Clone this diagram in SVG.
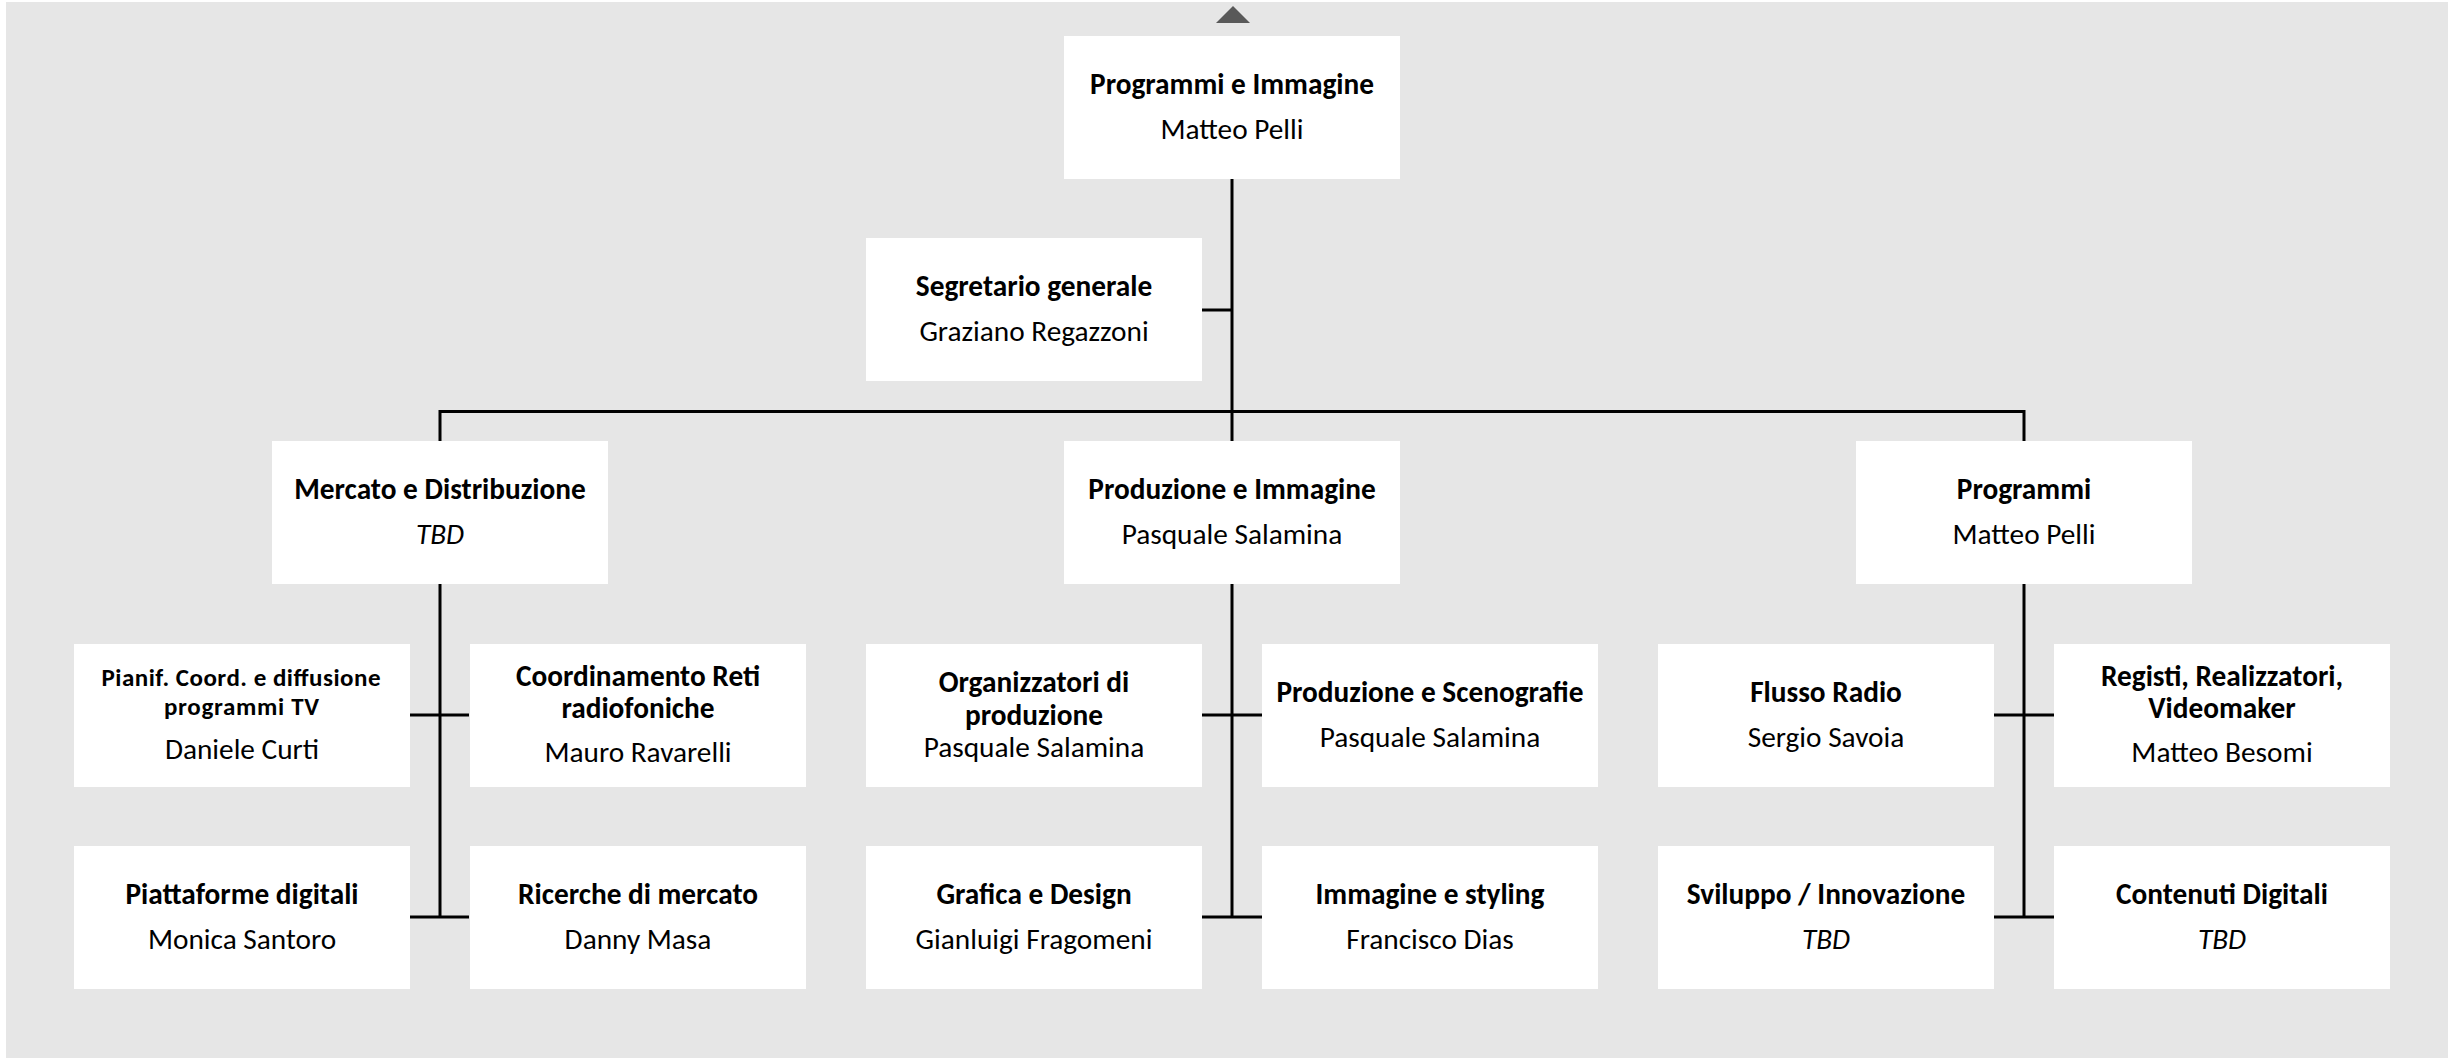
<svg xmlns="http://www.w3.org/2000/svg" width="2448" height="1058" viewBox="0 0 2448 1058">
<style>
.bg{fill:#e6e6e6}
.box{fill:#ffffff}
.t{font-family:Carlito,"Open Sans",sans-serif;font-size:29.3px;font-weight:bold;fill:#000;text-anchor:middle}
.ts{font-family:Carlito,"Open Sans",sans-serif;font-size:25px;font-weight:bold;fill:#000;text-anchor:middle}
.n{font-family:Carlito,"Open Sans",sans-serif;font-size:29.3px;fill:#000;text-anchor:middle}
.i{font-style:italic}
.ln{stroke:#000;stroke-width:3;fill:none}
</style>
<rect class="bg" x="6" y="2" width="2442" height="1056"/>
<polygon points="1233,6 1250,23 1216,23" fill="#595959"/>
<g id="connectors">
<path class="ln" d="M1232,179 V441 M1202,310 H1232 M440,411.5 H2024 M440,410 V441 M2024,410 V441"/>
<path class="ln" d="M440,584 V917 M410,715 H469 M410,917 H469"/>
<path class="ln" d="M1232,584 V917 M1202,715 H1262 M1202,917 H1262"/>
<path class="ln" d="M2024,584 V917 M1994,715 H2054 M1994,917 H2054"/>
</g>
<g id="n-top"><rect class="box" x="1064" y="36" width="336" height="143"/><text class="t" x="1232" y="94">Programmi e Immagine</text><text class="n" x="1232" y="139">Matteo Pelli</text></g>
<g id="n-segretario"><rect class="box" x="866" y="238" width="336" height="143"/><text class="t" x="1034" y="296">Segretario generale</text><text class="n" x="1034" y="341">Graziano Regazzoni</text></g>
<g id="n-mercato"><rect class="box" x="272" y="441" width="336" height="143"/><text class="t" x="440" y="499">Mercato e Distribuzione</text><text class="n i" x="440" y="544">TBD</text></g>
<g id="n-produzione"><rect class="box" x="1064" y="441" width="336" height="143"/><text class="t" x="1232" y="499">Produzione e Immagine</text><text class="n" x="1232" y="544">Pasquale Salamina</text></g>
<g id="n-programmi"><rect class="box" x="1856" y="441" width="336" height="143"/><text class="t" x="2024" y="499">Programmi</text><text class="n" x="2024" y="544">Matteo Pelli</text></g>
<g id="n-pianif"><rect class="box" x="74" y="644" width="336" height="143"/><text class="ts" x="241" y="686" textLength="279">Pianif. Coord. e diffusione</text><text class="ts" x="241.5" y="715" textLength="155">programmi TV</text><text class="n" x="242" y="759">Daniele Curti</text></g>
<g id="n-coord"><rect class="box" x="470" y="644" width="336" height="143"/><text class="t" x="638" y="686">Coordinamento Reti</text><text class="t" x="638" y="718">radiofoniche</text><text class="n" x="638" y="762">Mauro Ravarelli</text></g>
<g id="n-piattaforme"><rect class="box" x="74" y="846" width="336" height="143"/><text class="t" x="242" y="904">Piattaforme digitali</text><text class="n" x="242" y="949">Monica Santoro</text></g>
<g id="n-ricerche"><rect class="box" x="470" y="846" width="336" height="143"/><text class="t" x="638" y="904">Ricerche di mercato</text><text class="n" x="638" y="949">Danny Masa</text></g>
<g id="n-organizzatori"><rect class="box" x="866" y="644" width="336" height="143"/><text class="t" x="1034" y="692">Organizzatori di</text><text class="t" x="1034" y="725">produzione</text><text class="n" x="1034" y="757">Pasquale Salamina</text></g>
<g id="n-scenografie"><rect class="box" x="1262" y="644" width="336" height="143"/><text class="t" x="1430" y="702">Produzione e Scenografie</text><text class="n" x="1430" y="747">Pasquale Salamina</text></g>
<g id="n-grafica"><rect class="box" x="866" y="846" width="336" height="143"/><text class="t" x="1034" y="904">Grafica e Design</text><text class="n" x="1034" y="949">Gianluigi Fragomeni</text></g>
<g id="n-styling"><rect class="box" x="1262" y="846" width="336" height="143"/><text class="t" x="1430" y="904">Immagine e styling</text><text class="n" x="1430" y="949">Francisco Dias</text></g>
<g id="n-flusso"><rect class="box" x="1658" y="644" width="336" height="143"/><text class="t" x="1826" y="702">Flusso Radio</text><text class="n" x="1826" y="747">Sergio Savoia</text></g>
<g id="n-registi"><rect class="box" x="2054" y="644" width="336" height="143"/><text class="t" x="2222" y="686">Registi, Realizzatori,</text><text class="t" x="2222" y="718">Videomaker</text><text class="n" x="2222" y="762">Matteo Besomi</text></g>
<g id="n-sviluppo"><rect class="box" x="1658" y="846" width="336" height="143"/><text class="t" x="1826" y="904">Sviluppo / Innovazione</text><text class="n i" x="1826" y="949">TBD</text></g>
<g id="n-contenuti"><rect class="box" x="2054" y="846" width="336" height="143"/><text class="t" x="2222" y="904">Contenuti Digitali</text><text class="n i" x="2222" y="949">TBD</text></g>
</svg>
